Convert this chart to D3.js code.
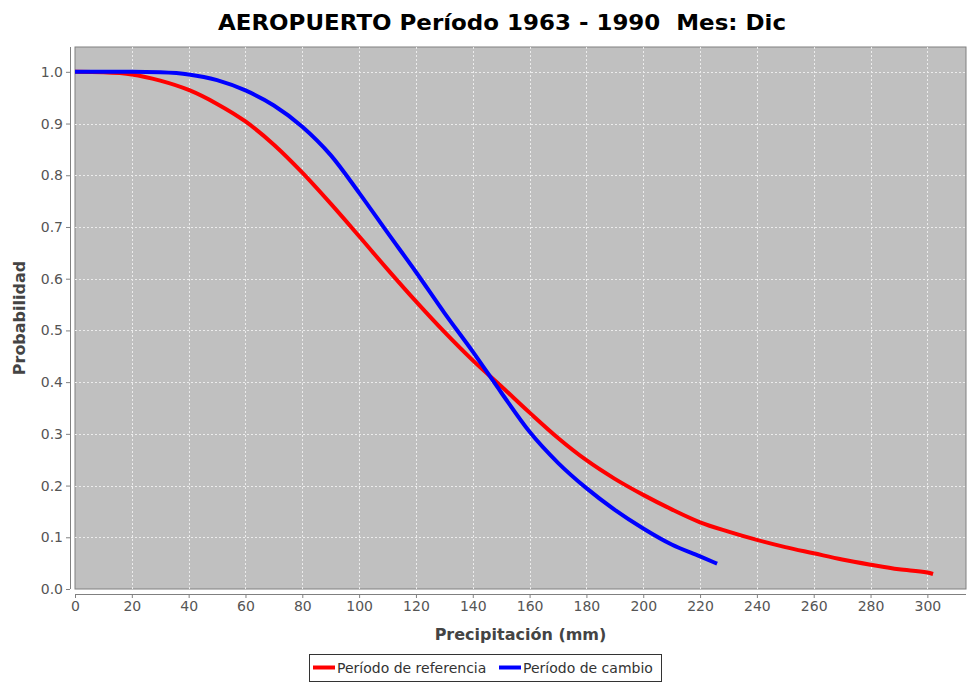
<!DOCTYPE html>
<html>
<head>
<meta charset="utf-8">
<script src="https://cdn.jsdelivr.net/npm/d3@7"></script>
<style>
  body { margin: 0; background: #fff; }
  svg { display: block; }
</style>
</head>
<body>
<svg width="967" height="683"></svg>
<script>
// values
var refX = [0, 10, 20, 30, 40, 50, 60, 70, 80, 90, 100, 110, 120, 130, 140, 150, 160, 170, 180, 190, 200, 210, 220, 230, 240, 250, 260, 270, 280, 290, 300, 302];
var refP = [1.0, 0.999, 0.995, 0.983, 0.965, 0.938, 0.904, 0.859, 0.805, 0.745, 0.682, 0.618, 0.556, 0.497, 0.442, 0.392, 0.341, 0.292, 0.249, 0.213, 0.182, 0.154, 0.129, 0.111, 0.095, 0.081, 0.069, 0.057, 0.047, 0.038, 0.032, 0.029];

var camX = [0, 10, 20, 30, 40, 50, 60, 70, 80, 90, 100, 110, 120, 130, 140, 150, 160, 170, 180, 190, 200, 210, 220, 226];
var camP = [1.0, 1.0, 1.0, 0.999, 0.995, 0.984, 0.964, 0.935, 0.894, 0.839, 0.766, 0.689, 0.613, 0.534, 0.459, 0.380, 0.304, 0.244, 0.195, 0.153, 0.117, 0.086, 0.063, 0.049];

var xTicks = d3.range(0, 301, 20);
var yTicks = d3.range(0, 11).map(function (i) { return i / 10; });

var seriesNames = ["Período de referencia", "Período de cambio"];
var seriesColors = ["#ff0000", "#0000ff"];

var svg = d3.select("svg");

var plot = { left: 75, right: 966, top: 47, bottom: 589 };

var x = d3.scaleLinear().domain([0, 313.6]).range([plot.left, plot.right]);
var y = d3.scaleLinear().domain([0, 1.048]).range([plot.bottom, plot.top]);

// title
svg.append("text")
    .attr("x", 502)
    .attr("y", 30)
    .attr("text-anchor", "middle")
    .attr("textLength", 568)
    .attr("lengthAdjust", "spacingAndGlyphs")
    .style("white-space", "pre")
    .style("font-family", "'DejaVu Sans', sans-serif")
    .style("font-weight", "bold")
    .style("font-size", "22px")
    .style("fill", "#000")
    .text("AEROPUERTO Período 1963 - 1990  Mes: Dic");

// plot background
svg.append("rect")
    .attr("x", plot.left)
    .attr("y", plot.top)
    .attr("width", plot.right - plot.left)
    .attr("height", plot.bottom - plot.top)
    .style("fill", "#c0c0c0")
    .style("stroke", "#808080")
    .style("stroke-width", 1);

// grid
var grid = svg.append("g");
grid.selectAll("line.gx")
    .data(xTicks.filter(function (d) { return d > 0; }))
    .enter().append("line")
    .attr("x1", function (d) { return Math.round(x(d)) + 0.5; })
    .attr("x2", function (d) { return Math.round(x(d)) + 0.5; })
    .attr("y1", plot.top)
    .attr("y2", plot.bottom)
    .style("stroke", "#ececec")
    .style("stroke-dasharray", "2,2");
grid.selectAll("line.gy")
    .data(yTicks.filter(function (d) { return d > 0; }))
    .enter().append("line")
    .attr("y1", function (d) { return Math.round(y(d)) + 0.5; })
    .attr("y2", function (d) { return Math.round(y(d)) + 0.5; })
    .attr("x1", plot.left)
    .attr("x2", plot.right)
    .style("stroke", "#ececec")
    .style("stroke-dasharray", "2,2");

// axes
var xAxis = d3.axisBottom(x).tickValues(xTicks).tickFormat(d3.format("d")).tickSizeOuter(0).tickSize(4).tickPadding(3);
var yAxis = d3.axisLeft(y).tickValues(yTicks).tickFormat(d3.format(".1f")).tickSizeOuter(0).tickSize(4).tickPadding(3);

var gx = svg.append("g")
    .attr("transform", "translate(0," + (plot.bottom + 5) + ")")
    .call(xAxis);
gx.select(".domain").attr("d", "M" + plot.left + ",0.5H" + plot.right);

var gy = svg.append("g")
    .attr("transform", "translate(" + (plot.left - 5) + ",0)")
    .call(yAxis);
gy.select(".domain").attr("d", "M0.5," + plot.top + "V" + plot.bottom);

[gx, gy].forEach(function (g) {
    g.selectAll(".domain").style("stroke", "#808080");
    g.selectAll(".tick line").style("stroke", "#808080");
    g.selectAll(".tick text")
        .style("font-family", "'DejaVu Sans', sans-serif")
        .style("font-size", "14px")
        .style("fill", "#555");
});

// axis labels
svg.append("text")
    .attr("x", (plot.left + plot.right) / 2)
    .attr("y", 640)
    .attr("text-anchor", "middle")
    .style("font-family", "'DejaVu Sans', sans-serif")
    .style("font-weight", "bold")
    .style("font-size", "16px")
    .style("fill", "#444")
    .text("Precipitación (mm)");

svg.append("text")
    .attr("transform", "translate(25," + ((plot.top + plot.bottom) / 2) + ") rotate(-90)")
    .attr("text-anchor", "middle")
    .style("font-family", "'DejaVu Sans', sans-serif")
    .style("font-weight", "bold")
    .style("font-size", "16px")
    .style("fill", "#444")
    .text("Probabilidad");

// curves
var line = d3.line()
    .x(function (d) { return x(d[0]); })
    .y(function (d) { return y(d[1]); })
    .curve(d3.curveMonotoneX);

var series = [
    d3.zip(refX, refP),
    d3.zip(camX, camP)
];

svg.append("g")
    .selectAll("path")
    .data(series)
    .enter()
    .append("path")
    .attr("d", line)
    .style("fill", "none")
    .style("stroke", function (d, i) { return seriesColors[i]; })
    .style("stroke-width", 4);

// legend
var legend = svg.append("g");
legend.append("rect")
    .attr("x", 309.5)
    .attr("y", 654.5)
    .attr("width", 352)
    .attr("height", 27)
    .style("fill", "#fff")
    .style("stroke", "#333");

var legendX = [313, 499];
legend.selectAll("line")
    .data(seriesNames)
    .enter().append("line")
    .attr("x1", function (d, i) { return legendX[i]; })
    .attr("x2", function (d, i) { return legendX[i] + 22; })
    .attr("y1", 667.5)
    .attr("y2", 667.5)
    .style("stroke", function (d, i) { return seriesColors[i]; })
    .style("stroke-width", 4);
legend.selectAll("text")
    .data(seriesNames)
    .enter().append("text")
    .attr("x", function (d, i) { return legendX[i] + 24; })
    .attr("y", 673)
    .style("font-family", "'DejaVu Sans', sans-serif")
    .style("font-size", "14px")
    .style("fill", "#333")
    .text(function (d) { return d; });
</script>
</body>
</html>
